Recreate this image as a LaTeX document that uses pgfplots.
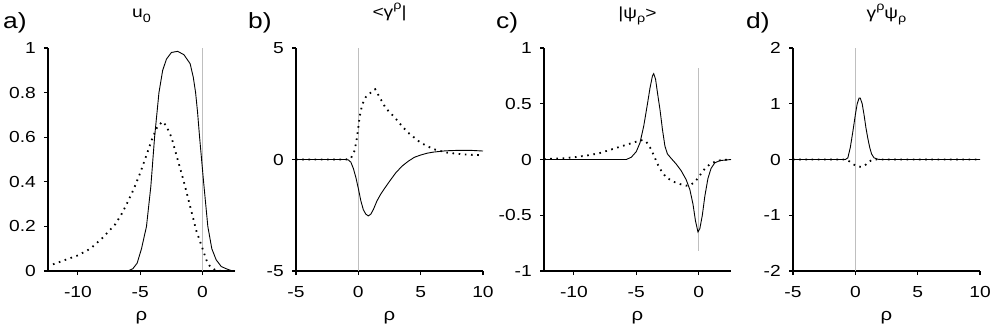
\documentclass[border=0pt]{standalone}
\usepackage{fontspec}
\setmainfont[FakeStretch=1.2]{Liberation Sans}
\usepackage{pgfplots}
\pgfplotsset{compat=1.18}

\newcommand\tickfont{\fontsize{16}{16}\selectfont}
\newcommand\titfont{\fontsize{16}{16}\selectfont}
\newcommand\sub[1]{\raisebox{-0.3em}{\fontsize{12}{12}\selectfont #1}}
\newcommand\sups[1]{\raisebox{0.5em}{\fontsize{12}{12}\selectfont #1}}

\pgfplotsset{
  panel/.style={
    scale only axis, width=187pt, height=223pt, anchor=south west,
    axis x line*=bottom, axis y line*=left,
    axis line style={-, line width=1.2pt},
    xtick pos=bottom, ytick pos=left,
    tick align=outside, major tick length=4pt,
    tick style={black, line width=1.1pt},
    ticklabel style={font=\tickfont},
    /pgf/number format/assume math mode=true,
    xticklabel style={anchor=base, inner sep=0pt, yshift=-22pt},
    yticklabel style={anchor=east, inner sep=0pt, xshift=-8pt},
    xlabel={ρ},
    xlabel style={font=\fontsize{17}{17}\selectfont, at={(0.5,0)}, anchor=base, inner sep=0pt, yshift=-49pt},
    title style={font=\titfont, at={(0.5,1)}, anchor=base, inner sep=0pt, yshift=24pt},
    clip=false,
  },
  solid curve/.style={black, line width=0.9pt},
  dot curve/.style={black, line width=1.8pt, dash pattern=on 1.6pt off 4.6pt},
  zero line/.style={black!25, line width=0.8pt},
}

\begin{document}
\begin{tikzpicture}
\useasboundingbox (0,0) rectangle (1002pt,327pt);

% a) u_0
\begin{axis}[panel, at={(48pt,56pt)},
  xmin=-12.4, xmax=2.6, ymin=0, ymax=1,
  xtick={-10,-5,0}, xticklabels={-10,-5,0},
  ytick={0,0.2,0.4,0.6,0.8,1}, yticklabels={0,0.2,0.4,0.6,0.8,1},
  title={u\sub{0}}]
\addplot[zero line] coordinates {(0,0) (0,1)};
\addplot[solid curve] coordinates {
  (-12.4,0) (-6,0) (-5.6,0.01) (-5.25,0.035) (-4.9,0.1) (-4.5,0.2) (-4.15,0.38)
  (-3.85,0.6) (-3.5,0.8) (-3.2,0.9) (-2.9,0.95) (-2.5,0.98) (-2.0,0.985)
  (-1.5,0.97) (-1.0,0.93) (-0.75,0.87) (-0.56,0.8) (-0.4,0.71) (-0.24,0.6)
  (-0.08,0.5) (0.08,0.4) (0.25,0.3) (0.42,0.2) (0.74,0.1) (1.09,0.05)
  (1.5,0.02) (1.9,0.01) (2.3,0.002) (2.6,0)
};
\addplot[dot curve] coordinates {
  (-12,0.03) (-11,0.05) (-10,0.07) (-9,0.1) (-8,0.15) (-7,0.21) (-6.5,0.255)
  (-6,0.31) (-5.5,0.37) (-5,0.44) (-4.5,0.52) (-4,0.6) (-3.6,0.65) (-3.2,0.67)
  (-2.9,0.65) (-2.5,0.6) (-2,0.5) (-1.5,0.4) (-1,0.29) (-0.5,0.18) (0,0.1)
  (0.3,0.05) (0.6,0.02) (1,0.005) (1.5,0)
};
\end{axis}

% b) <gamma^rho|
\begin{axis}[panel, at={(296pt,56pt)},
  xmin=-5, xmax=10, ymin=-5, ymax=5,
  xtick={-5,0,5,10}, xticklabels={-5,0,5,10},
  ytick={-5,0,5}, yticklabels={-5,0,5},
  title={<γ\sups{ρ}|}]
\addplot[zero line] coordinates {(0,-5) (0,5)};
\addplot[solid curve] coordinates {
  (-5,0) (-1,0) (-0.8,-0.02) (-0.6,-0.12) (-0.4,-0.4) (-0.2,-0.8) (0,-1.3)
  (0.2,-1.85) (0.4,-2.25) (0.6,-2.45) (0.8,-2.53) (1.0,-2.45) (1.2,-2.25)
  (1.5,-1.85) (1.8,-1.55) (2.1,-1.3) (2.5,-0.98) (3.0,-0.6) (3.5,-0.3)
  (4.0,-0.08) (4.5,0.1) (5.0,0.2) (5.5,0.28) (6,0.33) (7,0.39) (8,0.41)
  (9,0.41) (10,0.38)
};
\addplot[dot curve] coordinates {
  (-5,0) (-1,0) (-0.6,0.05) (-0.3,0.4) (-0.1,1.0) (0.1,1.9) (0.3,2.45)
  (0.6,2.8) (1.0,3.0) (1.35,3.15) (1.7,2.8) (2.2,2.3) (2.9,1.9) (3.5,1.5)
  (4,1.2) (5,0.75) (6,0.47) (7,0.32) (8,0.25) (9,0.21) (10,0.19)
};
\end{axis}

% c) |psi_rho>
\begin{axis}[panel, at={(544pt,56pt)},
  xmin=-12.4, xmax=2.6, ymin=-1, ymax=1,
  xtick={-10,-5,0}, xticklabels={-10,-5,0},
  ytick={-1,-0.5,0,0.5,1}, yticklabels={-1,-0.5,0,0.5,1},
  title={|ψ\sub{ρ}>}]
\addplot[zero line] coordinates {(0,-0.82) (0,0.82)};
\addplot[solid curve] coordinates {
  (-12.4,0) (-5.8,0) (-5.4,0.02) (-5.0,0.07) (-4.7,0.15) (-4.4,0.3) (-4.1,0.5)
  (-3.9,0.64) (-3.7,0.75) (-3.6,0.77) (-3.45,0.72) (-3.3,0.6) (-3.1,0.45)
  (-2.9,0.27) (-2.7,0.12) (-2.5,0.05) (-2.2,0.01) (-1.8,-0.04) (-1.4,-0.1)
  (-1.0,-0.18) (-0.7,-0.27) (-0.45,-0.4) (-0.25,-0.55) (-0.05,-0.65)
  (0.1,-0.62) (0.3,-0.5) (0.5,-0.33) (0.75,-0.17) (1.0,-0.08) (1.3,-0.03)
  (1.7,-0.01) (2.6,0)
};
\addplot[dot curve] coordinates {
  (-12.4,0.003) (-11,0.01) (-10,0.02) (-9,0.035) (-8,0.055) (-7,0.09)
  (-6,0.125) (-5,0.16) (-4.5,0.175) (-4.2,0.16) (-3.9,0.11) (-3.6,0.04)
  (-3.3,-0.04) (-3.0,-0.1) (-2.6,-0.16) (-2.0,-0.2) (-1.5,-0.22) (-1.0,-0.235)
  (-0.6,-0.225) (-0.3,-0.2) (0,-0.16) (0.3,-0.11) (0.6,-0.07) (1.0,-0.035)
  (1.5,-0.012) (2.0,-0.003) (2.6,0)
};
\end{axis}

% d) gamma^rho psi_rho
\begin{axis}[panel, at={(793pt,56pt)},
  xmin=-5, xmax=10, ymin=-2, ymax=2,
  xtick={-5,0,5,10}, xticklabels={-5,0,5,10},
  ytick={-2,-1,0,1,2}, yticklabels={-2,-1,0,1,2},
  title={γ\sups{ρ}ψ\sub{ρ}}]
\addplot[zero line] coordinates {(0,-2) (0,2)};
\addplot[solid curve] coordinates {
  (-5,0) (-0.8,0) (-0.6,0.03) (-0.4,0.22) (-0.2,0.5) (0,0.8) (0.15,1.0)
  (0.3,1.1) (0.4,1.1) (0.55,1.0) (0.7,0.8) (0.85,0.57) (1.0,0.38) (1.15,0.22)
  (1.3,0.1) (1.5,0.03) (1.8,0.005) (2,0) (10,0)
};
\addplot[dot curve] coordinates {
  (-5,0) (-0.8,0) (-0.5,-0.03) (-0.2,-0.08) (0.1,-0.12) (0.4,-0.13)
  (0.7,-0.12) (1.0,-0.06) (1.3,-0.01) (1.6,0) (10,0)
};
\end{axis}

\node[anchor=base west, inner sep=0pt, font=\fontsize{22}{22}\selectfont] at (3pt,298.7pt) {a)};
\node[anchor=base west, inner sep=0pt, font=\fontsize{22}{22}\selectfont] at (248pt,298.7pt) {b)};
\node[anchor=base west, inner sep=0pt, font=\fontsize{22}{22}\selectfont] at (496pt,298.7pt) {c)};
\node[anchor=base west, inner sep=0pt, font=\fontsize{22}{22}\selectfont] at (746pt,298.7pt) {d)};
\end{tikzpicture}
\end{document}
